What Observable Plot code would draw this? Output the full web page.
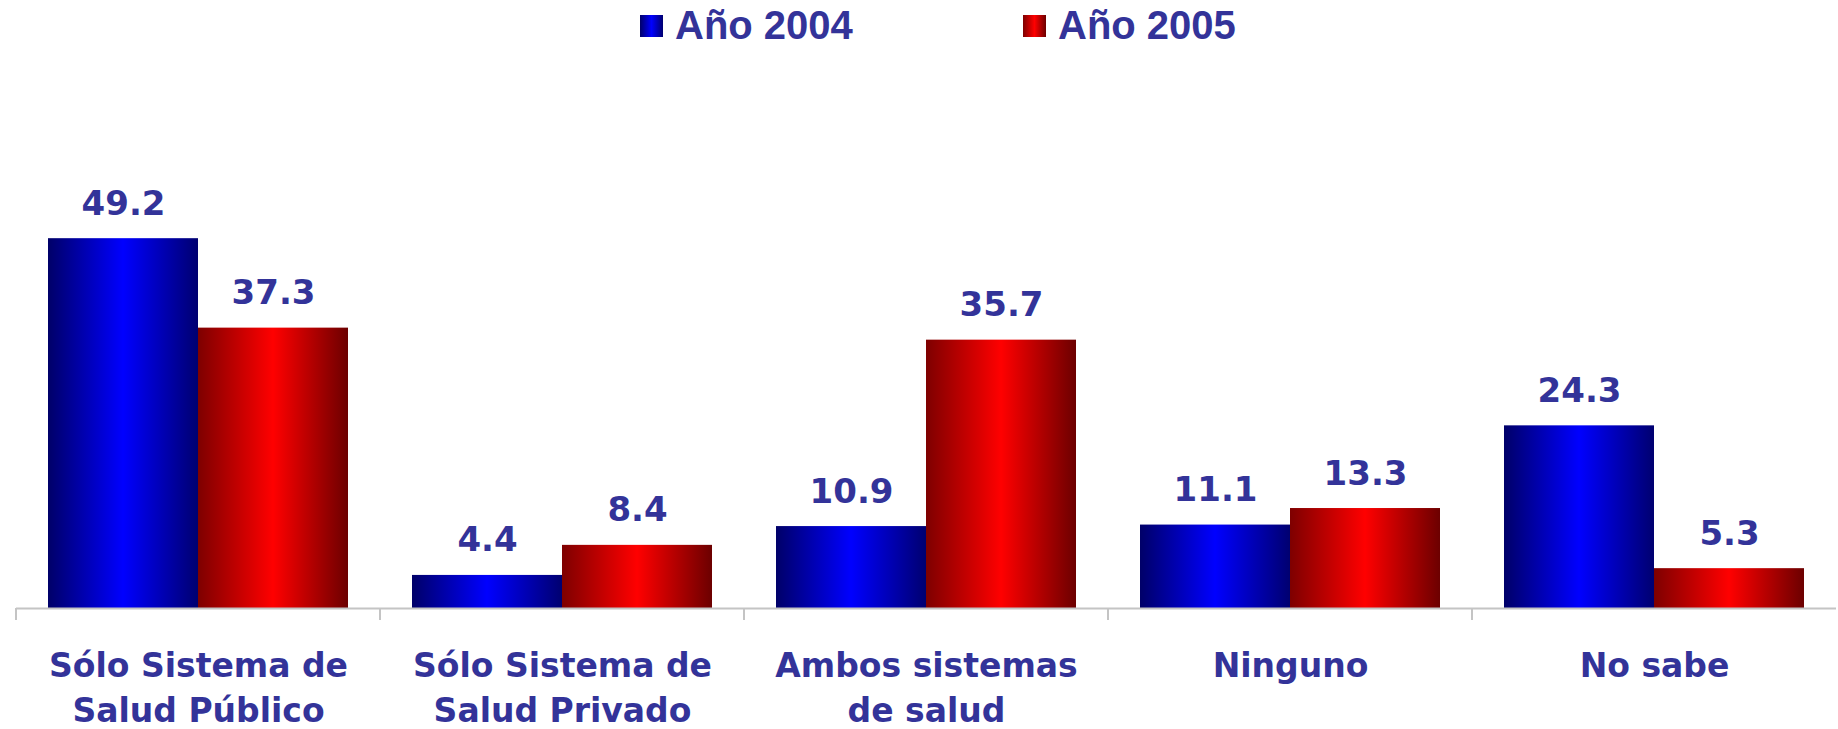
<!DOCTYPE html>
<html>
<head>
<meta charset="utf-8">
<script src="https://cdn.jsdelivr.net/npm/d3@7"></script>
<script src="https://cdn.jsdelivr.net/npm/@observablehq/plot@0.6"></script>
<style>
  body { margin: 0; background: #fff; }
  #legend { position: relative; width: 1838px; height: 60px; font-family: "Liberation Sans", Arial, sans-serif; font-weight: bold; font-size: 40px; color: #333399; }
  .sw { position: absolute; top: 15px; width: 23px; height: 22px; }
  .lt { position: absolute; top: 5px; line-height: 40px; white-space: nowrap; }
  svg { display: block; }
</style>
</head>
<body>
<div id="legend"></div>
<div id="chart"></div>
<script>
const categories = ["Sólo Sistema de\nSalud Público", "Sólo Sistema de\nSalud Privado", "Ambos sistemas\nde salud", "Ninguno", "No sabe"];
const series = ["Año 2004", "Año 2005"];
const values2004 = [49.2, 4.4, 10.9, 11.1, 24.3];
const values2005 = [37.3, 8.4, 35.7, 13.3, 5.3];

const gradients = {
  "Año 2004": {id: "grad2004", stops: [["0%", "#000068"], ["50%", "#0000ff"], ["100%", "#000070"]]},
  "Año 2005": {id: "grad2005", stops: [["0%", "#7e0000"], ["50%", "#ff0000"], ["100%", "#6c0000"]]}
};

const data = [];
categories.forEach((c, i) => {
  data.push({category: c, series: series[0], value: values2004[i]});
  data.push({category: c, series: series[1], value: values2005[i]});
});

// legend
const legend = d3.select("#legend");
const legendLeft = [640, 1023];
series.forEach((s, i) => {
  const g = gradients[s];
  legend.append("div").attr("class", "sw").style("left", legendLeft[i] + "px")
    .style("background", `linear-gradient(to right, ${g.stops.map(([o, c]) => c + " " + o).join(", ")})`);
  legend.append("div").attr("class", "lt").style("left", (legendLeft[i] + 35) + "px").text(s);
});

const font = "'DejaVu Sans', Verdana, sans-serif";
const chart = Plot.plot({
  width: 1838,
  height: 669,
  marginLeft: 14,
  marginRight: 0,
  marginTop: 97,
  marginBottom: 121,
  style: {fontFamily: font, background: "#fff"},
  fx: {domain: categories, padding: 0, label: null},
  x: {domain: series, paddingInner: 0, paddingOuter: 0.208, axis: null},
  y: {domain: [0, 60], axis: null},
  marks: [
    ...series.map(s => Plot.barY(data.filter(d => d.series === s), {
      fx: "category", x: "series", y: "value", fill: `url(#${gradients[s].id})`
    })),
    Plot.ruleY([0], {stroke: "#c4c4c4", strokeWidth: 2}),
    Plot.text(data, {
      fx: "category", x: "series", y: "value",
      text: d => d.value.toFixed(1),
      lineAnchor: "bottom", dy: -24,
      fontSize: 34, fontWeight: "bold", fill: "#333399", fontFamily: font
    }),
    Plot.axisFx({
      anchor: "bottom", tickSize: 0, tickPadding: 37, label: null,
      fontSize: 33, fontWeight: "bold", fill: "#333399", fontFamily: font, lineHeight: 1.36
    })
  ]
});

// gradient definitions
const defs = d3.select(chart).insert("defs", ":first-child");
series.forEach(s => {
  const g = gradients[s];
  const lg = defs.append("linearGradient").attr("id", g.id).attr("x1", "0").attr("x2", "1").attr("y1", "0").attr("y2", "0");
  g.stops.forEach(([o, c]) => lg.append("stop").attr("offset", o).attr("stop-color", c));
});

// category boundary ticks, positioned with the fx and y scales
const fx = chart.scale("fx");
const y = chart.scale("y");
const y0 = y.apply(0);
d3.select(chart).append("g").attr("stroke", "#c4c4c4").attr("stroke-width", 2)
  .selectAll("line").data(categories).join("line")
  .attr("x1", d => fx.apply(d)).attr("x2", d => fx.apply(d))
  .attr("y1", y0).attr("y2", y0 + 12);

document.getElementById("chart").appendChild(chart);
</script>
</body>
</html>
